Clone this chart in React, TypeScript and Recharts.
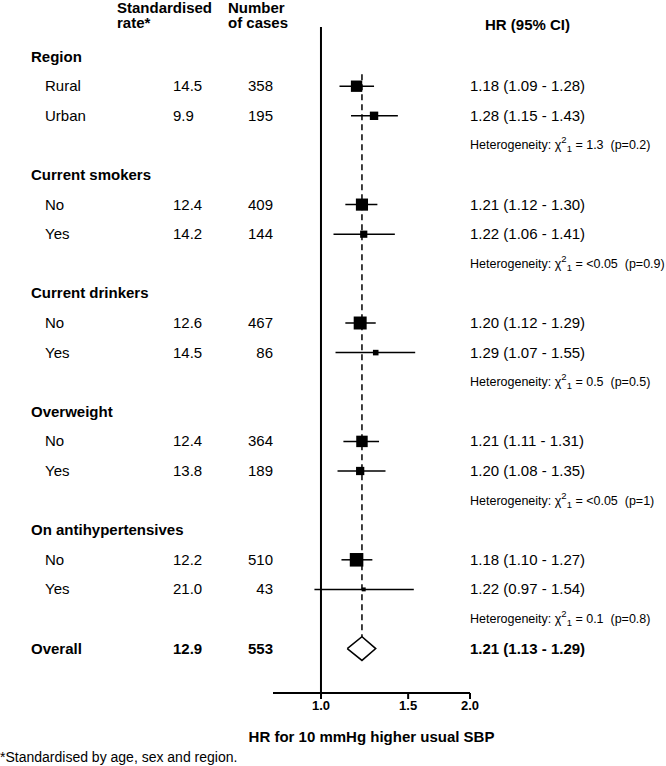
import { ScatterChart, Scatter, XAxis, YAxis, ErrorBar, ReferenceLine } from "recharts";

const groups = ["Region", "Current smokers", "Current drinkers", "Overweight", "On antihypertensives"];
const levels = [["Rural", "Urban"], ["No", "Yes"], ["No", "Yes"], ["No", "Yes"], ["No", "Yes"]];
const rates = [[14.5, 9.9], [12.4, 14.2], [12.6, 14.5], [12.4, 13.8], [12.2, 21.0]];
const cases = [[358, 195], [409, 144], [467, 86], [364, 189], [510, 43]];
const hr = [[1.18, 1.28], [1.21, 1.22], [1.2, 1.29], [1.21, 1.2], [1.18, 1.22]];
const lower = [[1.09, 1.15], [1.12, 1.06], [1.12, 1.07], [1.11, 1.08], [1.1, 0.97]];
const upper = [[1.28, 1.43], [1.3, 1.41], [1.29, 1.55], [1.31, 1.35], [1.27, 1.54]];
const hetChi = ["1.3", "<0.05", "0.5", "<0.05", "0.1"];
const hetP = ["0.2", "0.9", "0.5", "1", "0.8"];

const overallRate = 12.9;
const overallCases = 553;
const overallHr = 1.21;
const overallLower = 1.13;
const overallUpper = 1.29;

const xTicks = [1.0, 1.5, 2.0];

const FONT = "'Liberation Sans', Arial, sans-serif";

type Row = {
  kind: "group" | "item" | "het" | "overall";
  y: number;
  label?: string;
  rate?: number;
  cases?: number;
  hr?: number;
  lo?: number;
  hi?: number;
  chi?: string;
  p?: string;
};

// one row per line of the table, top to bottom
const rows: Row[] = [];
groups.forEach((g, gi) => {
  rows.push({ kind: "group", y: rows.length, label: g });
  levels[gi].forEach((lv, li) => {
    rows.push({
      kind: "item",
      y: rows.length,
      label: lv,
      rate: rates[gi][li],
      cases: cases[gi][li],
      hr: hr[gi][li],
      lo: lower[gi][li],
      hi: upper[gi][li],
    });
  });
  rows.push({ kind: "het", y: rows.length, chi: hetChi[gi], p: hetP[gi] });
});
rows.push({
  kind: "overall",
  y: rows.length,
  label: "Overall",
  rate: overallRate,
  cases: overallCases,
  hr: overallHr,
  lo: overallLower,
  hi: overallUpper,
});
const overallRow = rows.length - 1;

const points = rows
  .filter((r) => r.kind === "item")
  .map((r) => ({
    x: r.hr,
    y: r.y,
    cases: r.cases,
    errorX: [(r.hr as number) - (r.lo as number), (r.hi as number) - (r.hr as number)],
  }));

const diamond = [
  { x: overallLower, y: overallRow },
  { x: overallHr, y: overallRow - 0.4 },
  { x: overallUpper, y: overallRow },
  { x: overallHr, y: overallRow + 0.4 },
  { x: overallLower, y: overallRow },
];

const ciText = (r: Row) =>
  `${(r.hr as number).toFixed(2)} (${(r.lo as number).toFixed(2)} - ${(r.hi as number).toFixed(2)})`;

const RowTick = (props: any) => {
  const { y, payload } = props;
  const r = rows[payload.value];
  if (!r) return null;
  const base = y + 5;
  if (r.kind === "group") {
    return (
      <text x={31} y={base} fontSize={15} fontWeight="bold" fill="#000">
        {r.label}
      </text>
    );
  }
  if (r.kind === "het") {
    return (
      <text x={470} y={y + 4} fontSize={12.5} fill="#000" style={{ whiteSpace: "pre" }}>
        {"Heterogeneity: χ"}
        <tspan dy={-6} fontSize={9.5}>2</tspan>
        <tspan dy={9} fontSize={9.5}>1</tspan>
        <tspan dy={-3}>{` = ${r.chi}  (p=${r.p})`}</tspan>
      </text>
    );
  }
  const bold = r.kind === "overall" ? "bold" : "normal";
  return (
    <g fontSize={15} fontWeight={bold} fill="#000">
      <text x={r.kind === "overall" ? 31 : 45} y={base}>{r.label}</text>
      <text x={173} y={base}>{(r.rate as number).toFixed(1)}</text>
      <text x={273} y={base} textAnchor="end">{r.cases}</text>
      <text x={470} y={base}>{ciText(r)}</text>
    </g>
  );
};

const Box = (props: any) => {
  const { cx, cy, payload } = props;
  const s = Math.sqrt(payload.cases) * 0.6;
  return <rect x={cx - s / 2} y={cy - s / 2} width={s} height={s} fill="#000" />;
};

const Nothing = () => <g />;

export default function App() {
  return (
    <div style={{ position: "absolute", left: 0, top: 0, width: 666, height: 766, background: "#fff", fontFamily: FONT }}>
      <ScatterChart width={666} height={766} margin={{ top: 27, right: 196, bottom: 43, left: 0 }}>
        <XAxis
          dataKey="x"
          type="number"
          scale="log"
          domain={[0.8, 2]}
          ticks={xTicks}
          tickFormatter={(v: number) => v.toFixed(1)}
          tick={{ fontSize: 13, fontWeight: "bold", fill: "#000" }}
          tickSize={6}
          axisLine={{ stroke: "#000", strokeWidth: 2 }}
          tickLine={{ stroke: "#000", strokeWidth: 2 }}
          height={30}
          label={{
            value: "HR for 10 mmHg higher usual SBP",
            position: "bottom",
            offset: 8,
            style: { fontSize: 15, fontWeight: "bold", fill: "#000" },
          }}
        />
        <YAxis
          dataKey="y"
          type="number"
          domain={[-1, 21.5]}
          reversed
          ticks={rows.map((r) => r.y)}
          interval={0}
          tick={RowTick}
          axisLine={false}
          tickLine={false}
          width={273}
        />
        <ReferenceLine x={1} stroke="#000" strokeWidth={2} />
        <ReferenceLine
          segment={[
            { x: overallHr, y: 0.6 },
            { x: overallHr, y: overallRow - 0.4 },
          ]}
          stroke="#000"
          strokeWidth={1.5}
          strokeDasharray="6 4"
        />
        <Scatter data={points} shape={Box} isAnimationActive={false}>
          <ErrorBar dataKey="errorX" direction="x" width={0} stroke="#000" strokeWidth={1.5} />
        </Scatter>
        <Scatter
          data={diamond}
          line={{ stroke: "#000", strokeWidth: 1.5 }}
          lineType="joint"
          shape={Nothing}
          isAnimationActive={false}
        />
      </ScatterChart>
      <svg
        width={666}
        height={766}
        style={{ position: "absolute", left: 0, top: 0, pointerEvents: "none" }}
      >
        <g fontSize={15} fontWeight="bold" fill="#000">
          <text x={117} y={12.5}>Standardised</text>
          <text x={117} y={28}>rate*</text>
          <text x={228} y={12.5}>Number</text>
          <text x={228} y={28}>of cases</text>
          <text x={485} y={30}>HR (95% CI)</text>
        </g>
        <text x={0} y={762} fontSize={14} fill="#000">
          *Standardised by age, sex and region.
        </text>
      </svg>
    </div>
  );
}
